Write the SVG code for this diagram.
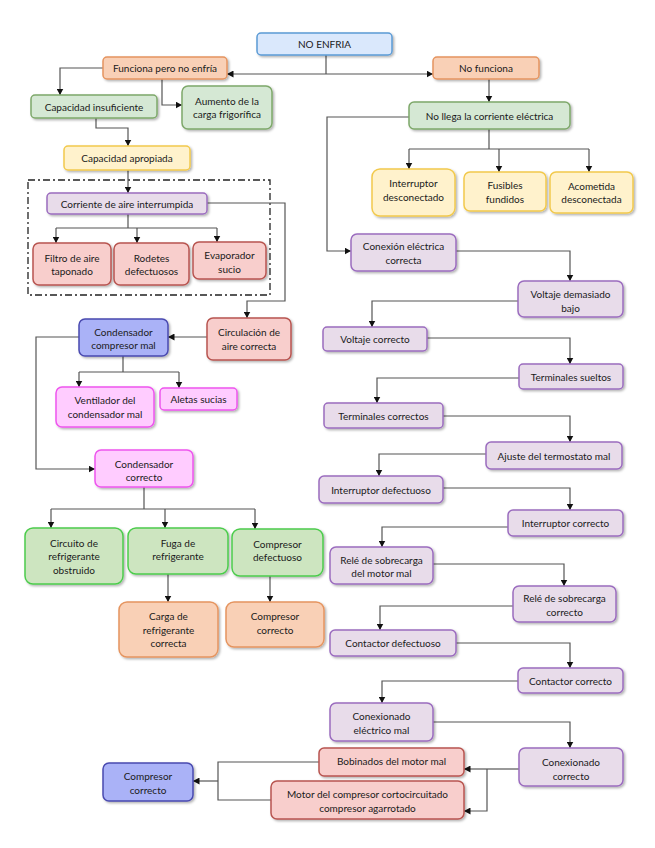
<svg xmlns="http://www.w3.org/2000/svg" width="655" height="848" viewBox="0 0 655 848">
<defs>
<style>
text{font-family:Lato,"Liberation Sans",sans-serif;font-size:10px;fill:#1a1a1a;text-anchor:middle;dominant-baseline:central}
rect.n{stroke-width:1.5;filter:url(#sh)}
.top{fill:#dae8fc;stroke:#5b9bd5}
.org{fill:#f9d0b6;stroke:#e5945f}
.grn{fill:#d5e8d4;stroke:#7ea86a}
.yel{fill:#fff2cc;stroke:#f2c94c}
.pur{fill:#e8dcea;stroke:#9b6cbf}
.red{fill:#f8cecc;stroke:#b85450}
.blu{fill:#aab2f7;stroke:#4a4ab0}
.mag{fill:#ffccff;stroke:#ee55ee}
.bgr{fill:#cde5c0;stroke:#4ccc4c}
#edges path{fill:none;stroke:#555;stroke-width:1.2}
#edges path.a{marker-end:url(#ar)}
</style>
<filter id="sh" x="-10%" y="-10%" width="130%" height="140%">
<feDropShadow dx="1.5" dy="1.5" stdDeviation="1" flood-color="#000" flood-opacity="0.3"/>
</filter>
<marker id="ar" markerUnits="userSpaceOnUse" markerWidth="7" markerHeight="7" refX="6.5" refY="3.5" orient="auto">
<path d="M0,0 L6.5,3.5 L0,7 z" fill="#111"/>
</marker>
</defs>
<rect width="655" height="848" fill="#fff"/>
<rect x="28" y="180" width="242" height="115" fill="none" stroke="#222" stroke-width="1.3" stroke-dasharray="7,3,2,3"/>
<g id="edges">
<path d="M326,55 V74"/>
<path class="a" d="M326,74 H227"/>
<path class="a" d="M326,74 H433"/>
<path class="a" d="M103,68 H60 V95"/>
<path class="a" d="M162,79 V105 H182"/>
<path class="a" d="M96,118 V128 H128 V146"/>
<path class="a" d="M128,170 V193"/>
<path d="M128,214 V228 M56,228 H217"/>
<path class="a" d="M56,228 V243"/>
<path class="a" d="M137,228 V243"/>
<path class="a" d="M217,228 V242"/>
<path class="a" d="M207,203 H285 V301 H247 V318"/>
<path class="a" d="M207,337 H168"/>
<path class="a" d="M79,337 H36 V469 H95"/>
<path d="M123,356 V372 M79,372 H179"/>
<path class="a" d="M79,372 V387"/>
<path class="a" d="M179,372 V388"/>
<path d="M144,487 V509 M51,509 H255"/>
<path class="a" d="M51,509 V528"/>
<path class="a" d="M165,509 V528"/>
<path class="a" d="M255,509 V529"/>
<path class="a" d="M168,574 V602"/>
<path class="a" d="M270,576 V602"/>
<path class="a" d="M489,79 V102"/>
<path class="a" d="M409,117 H327 V251 H351"/>
<path d="M489,129 V149 M409,149 H589"/>
<path class="a" d="M409,149 V169"/>
<path class="a" d="M499,149 V172"/>
<path class="a" d="M589,149 V172"/>
<path class="a" d="M456,251 H570 V281"/>
<path class="a" d="M518,301 H372 V327"/>
<path class="a" d="M427,338 H570 V364"/>
<path class="a" d="M519,378 H377 V403"/>
<path class="a" d="M443,416 H570 V442"/>
<path class="a" d="M486,454 H379 V476"/>
<path class="a" d="M443,488 H570 V510"/>
<path class="a" d="M508,527 H382 V547"/>
<path class="a" d="M433,564 H564 V586"/>
<path class="a" d="M513,606 H380 V630"/>
<path class="a" d="M456,643 H570 V668"/>
<path class="a" d="M518,681 H382 V703"/>
<path class="a" d="M433,722 H570 V748"/>
<path d="M519,769 H487"/>
<path class="a" d="M487,769 H464"/>
<path class="a" d="M487,769 V811 H464"/>
<path d="M319,762 H218 V800 H271"/>
<path class="a" d="M218,781 H193"/>
</g>
<g id="n_noenfria"><rect class="n top" x="257" y="33" width="135" height="22" rx="4"/><text x="324.5" y="44">NO ENFRIA</text></g>
<g id="n_funciona"><rect class="n org" x="103" y="57" width="124" height="22" rx="4"/><text x="165" y="68">Funciona pero no enfría</text></g>
<g id="n_nofunciona"><rect class="n org" x="433" y="57" width="106" height="22" rx="4"/><text x="486" y="68">No funciona</text></g>
<g id="n_capins"><rect class="n grn" x="31" y="95" width="126" height="23" rx="4"/><text x="94" y="106.5">Capacidad insuficiente</text></g>
<g id="n_aumento"><rect class="n grn" x="182" y="86" width="90" height="43" rx="6"/><text x="227" y="100.5">Aumento de la</text><text x="227" y="114">carga frigorífica</text></g>
<g id="n_capapr"><rect class="n yel" x="64" y="146" width="126" height="24" rx="4"/><text x="127" y="158">Capacidad apropiada</text></g>
<g id="n_corriente"><rect class="n pur" x="47" y="193" width="160" height="21" rx="4"/><text x="127" y="203.5">Corriente de aire interrumpida</text></g>
<g id="n_filtro"><rect class="n red" x="33" y="243" width="78" height="42" rx="6"/><text x="72" y="257.5">Filtro de aire</text><text x="72" y="271">taponado</text></g>
<g id="n_rodetes"><rect class="n red" x="114" y="243" width="75" height="42" rx="6"/><text x="151.5" y="257.5">Rodetes</text><text x="151.5" y="271">defectuosos</text></g>
<g id="n_evap"><rect class="n red" x="193" y="242" width="73" height="37" rx="6"/><text x="229.5" y="255">Evaporador</text><text x="229.5" y="268.5">sucio</text></g>
<g id="n_circ"><rect class="n red" x="207" y="318" width="84" height="42" rx="6"/><text x="249" y="332">Circulación de</text><text x="249" y="345.5">aire correcta</text></g>
<g id="n_condmal"><rect class="n blu" x="79" y="319" width="89" height="37" rx="6"/><text x="123.5" y="331.5">Condensador</text><text x="123.5" y="345">compresor mal</text></g>
<g id="n_vent"><rect class="n mag" x="56" y="387" width="98" height="40" rx="6"/><text x="105" y="400">Ventilador del</text><text x="105" y="413.5">condensador mal</text></g>
<g id="n_aletas"><rect class="n mag" x="160" y="388" width="77" height="22" rx="4"/><text x="198.5" y="399">Aletas sucias</text></g>
<g id="n_condok"><rect class="n mag" x="95" y="450" width="98" height="37" rx="6"/><text x="144" y="463.5">Condensador</text><text x="144" y="477">correcto</text></g>
<g id="n_circuito"><rect class="n bgr" x="25" y="528" width="98" height="56" rx="8"/><text x="74" y="542.5">Circuito de</text><text x="74" y="556">refrigerante</text><text x="74" y="569.5">obstruido</text></g>
<g id="n_fuga"><rect class="n bgr" x="128" y="528" width="100" height="46" rx="8"/><text x="178" y="542.5">Fuga de</text><text x="178" y="556">refrigerante</text></g>
<g id="n_compdef"><rect class="n bgr" x="232" y="529" width="91" height="47" rx="8"/><text x="277.5" y="543.5">Compresor</text><text x="277.5" y="557">defectuoso</text></g>
<g id="n_carga"><rect class="n org" x="119" y="602" width="99" height="55" rx="8"/><text x="168.5" y="616">Carga de</text><text x="168.5" y="629.5">refrigerante</text><text x="168.5" y="643">correcta</text></g>
<g id="n_compok1"><rect class="n org" x="226" y="602" width="98" height="45" rx="8"/><text x="275" y="616">Compresor</text><text x="275" y="629.5">correcto</text></g>
<g id="n_nollega"><rect class="n grn" x="409" y="102" width="161" height="27" rx="5"/><text x="489.5" y="115.5">No llega la corriente eléctrica</text></g>
<g id="n_intdesc"><rect class="n yel" x="372" y="169" width="83" height="47" rx="8"/><text x="413.5" y="183">Interruptor</text><text x="413.5" y="197">desconectado</text></g>
<g id="n_fusibles"><rect class="n yel" x="464" y="172" width="82" height="39" rx="6"/><text x="505" y="185">Fusibles</text><text x="505" y="199">fundidos</text></g>
<g id="n_acometida"><rect class="n yel" x="550" y="172" width="83" height="41" rx="6"/><text x="591.5" y="185.5">Acometida</text><text x="591.5" y="199">desconectada</text></g>
<g id="n_conexion"><rect class="n pur" x="351" y="234" width="105" height="37" rx="6"/><text x="403.5" y="246">Conexión eléctrica</text><text x="403.5" y="260">correcta</text></g>
<g id="n_voltbajo"><rect class="n pur" x="518" y="281" width="105" height="36" rx="6"/><text x="570.5" y="294">Voltaje demasiado</text><text x="570.5" y="307.5">bajo</text></g>
<g id="n_voltok"><rect class="n pur" x="323" y="327" width="104" height="24" rx="4"/><text x="375" y="339">Voltaje correcto</text></g>
<g id="n_termsuel"><rect class="n pur" x="519" y="364" width="104" height="25" rx="4"/><text x="571" y="376.5">Terminales sueltos</text></g>
<g id="n_termok"><rect class="n pur" x="324" y="403" width="119" height="25" rx="4"/><text x="383.5" y="415.5">Terminales correctos</text></g>
<g id="n_ajuste"><rect class="n pur" x="486" y="442" width="136" height="27" rx="5"/><text x="554" y="455.5">Ajuste del termostato mal</text></g>
<g id="n_intdef"><rect class="n pur" x="319" y="476" width="124" height="27" rx="5"/><text x="381" y="489.5">Interruptor defectuoso</text></g>
<g id="n_intok"><rect class="n pur" x="508" y="510" width="115" height="26" rx="5"/><text x="565.5" y="523">Interruptor correcto</text></g>
<g id="n_rele"><rect class="n pur" x="330" y="547" width="103" height="37" rx="6"/><text x="381.5" y="559.5">Relé de sobrecarga</text><text x="381.5" y="573">del motor mal</text></g>
<g id="n_releok"><rect class="n pur" x="513" y="586" width="103" height="36" rx="6"/><text x="564.5" y="598">Relé de sobrecarga</text><text x="564.5" y="612">correcto</text></g>
<g id="n_contdef"><rect class="n pur" x="330" y="630" width="126" height="26" rx="5"/><text x="393" y="643">Contactor defectuoso</text></g>
<g id="n_contok"><rect class="n pur" x="518" y="668" width="105" height="25" rx="5"/><text x="570.5" y="680.5">Contactor correcto</text></g>
<g id="n_conexmal"><rect class="n pur" x="330" y="703" width="103" height="38" rx="6"/><text x="381.5" y="716">Conexionado</text><text x="381.5" y="730">eléctrico mal</text></g>
<g id="n_conexok"><rect class="n pur" x="519" y="748" width="104" height="38" rx="6"/><text x="571" y="762">Conexionado</text><text x="571" y="776">correcto</text></g>
<g id="n_bobinados"><rect class="n red" x="319" y="748" width="145" height="28" rx="5"/><text x="391.5" y="761">Bobinados del motor mal</text></g>
<g id="n_motor"><rect class="n red" x="271" y="781" width="193" height="38" rx="6"/><text x="367.5" y="794">Motor del compresor cortocircuitado</text><text x="367.5" y="808">compresor agarrotado</text></g>
<g id="n_compok2"><rect class="n blu" x="103" y="763" width="90" height="38" rx="6"/><text x="148" y="776">Compresor</text><text x="148" y="790">correcto</text></g>
</svg>
